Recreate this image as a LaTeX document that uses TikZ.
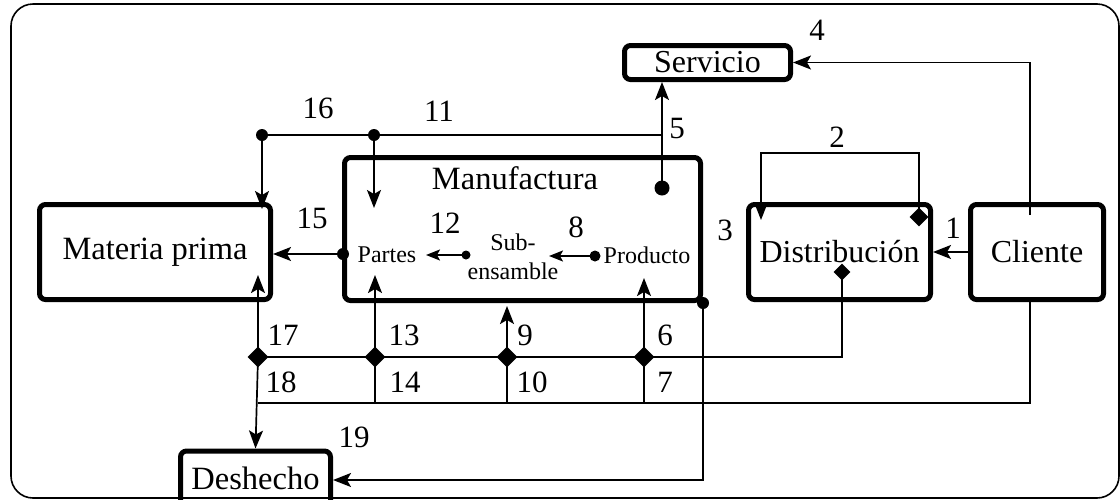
\documentclass[tikz,border=0pt]{standalone}
\usepackage{fontspec}
\setmainfont{Liberation Serif}
\usetikzlibrary{arrows.meta,shapes.geometric}
\begin{document}
\begin{tikzpicture}[x=1pt,y=-1pt,
  box/.style={draw,line width=5pt,rounded corners=6pt,inner sep=0pt,font=\fontsize{32}{36}\selectfont},
  big/.style={inner sep=0pt,font=\fontsize{32.5}{36}\selectfont},
  small/.style={inner sep=0pt,font=\fontsize{24}{29}\selectfont},
  num/.style={inner sep=0pt,font=\fontsize{31}{34}\selectfont},
  ln/.style={line width=1.7pt},
  arr/.style={line width=1.7pt,-{Stealth[length=18pt,width=14pt,inset=4pt]}},
  bigdot/.style={circle,fill,inner sep=0pt,minimum size=#1},
  dia/.style={diamond,fill,inner sep=0pt,minimum width=#1,minimum height=#1}]
\useasboundingbox (0,0) rectangle (1120,499);
\draw[line width=1.6pt,rounded corners=22pt] (11,4) rectangle (1119,498);

% boxes
\node[box,font=\fontsize{32.5}{36}\selectfont,minimum width=231pt,minimum height=95pt] (mp) at (155,252) {Materia prima};
\node[box,minimum width=356pt,minimum height=143pt] (manuf) at (522.5,229) {};
\node[box,minimum width=166pt,minimum height=34pt] (serv) at (707.5,62.5) {Servicio};
\node[box,minimum width=182pt,minimum height=95pt] (dist) at (839.5,252) {Distribución};
\node[box,minimum width=133pt,minimum height=95pt] (cli) at (1037,252) {Cliente};
\node[box,minimum width=150pt,minimum height=60pt] (desh) at (255.5,481) {};
\node[big] (deshT) at (255.5,478) {Deshecho};

% inside Manufactura
\node[big] (mtitle) at (515,178) {Manufactura};
\node[small] (partes) at (387,255) {Partes};
\node[small,align=center] (sub) at (513,257) {Sub-\\ensamble};
\node[small] (prod) at (647,255) {Producto};

% dots
\node[bigdot=12pt] (d16) at (262,135) {};
\node[bigdot=12pt] (d11) at (374,135) {};
\node[bigdot=15pt] (d5) at (662,188) {};
\node[bigdot=12pt] (d15) at (343,254) {};
\node[bigdot=9pt] (d12) at (466,255) {};
\node[bigdot=11pt] (d8) at (595,256) {};
\node[bigdot=12pt] (d19) at (703,303) {};

% diamonds
\node[dia=19pt] (q2) at (919,217) {};
\node[dia=17pt] (qd) at (842,272) {};
\node[dia=21pt] (q17) at (258,357) {};
\node[dia=21pt] (q13) at (375,357) {};
\node[dia=21pt] (q9) at (507,357) {};
\node[dia=21pt] (q6) at (644,357) {};

% coordinates
\coordinate (c2a) at (919,153);
\coordinate (c2b) at (761,153);
\coordinate (c2t) at (761,220);
\coordinate (c4) at (1030,215);
\coordinate (c11) at (661,135);
\coordinate (t11) at (374,208);
\coordinate (t16) at (262,209);
\coordinate (t17) at (258,275);
\coordinate (t13) at (375,275);
\coordinate (t9) at (507,306);
\coordinate (t6) at (644,278);
\coordinate (t12) at (426,255);
\coordinate (t8) at (549,256);
\coordinate (b18) at (258,403);
\coordinate (b14) at (375,403);
\coordinate (b10) at (507,403);
\coordinate (b7) at (644,403);
\coordinate (bc) at (1030,403);
\coordinate (c19) at (703,480);

% connectors
\draw[arr] (cli.west) -- (dist.east);
\draw[arr] (q2.center) -- (c2a) -- (c2b) -- (c2t);
\draw[arr] (c4) |- (serv.east);
\draw[arr] (d5.center) -- (d5 |- serv.south);
\draw[ln] (d16.center) -- (c11);
\draw[arr] (d11.center) -- (t11);
\draw[arr] (d16.center) -- (t16);
\draw[arr] (d15.center) -- (d15 -| mp.east);
\draw[arr,-{Stealth[length=14pt,width=11pt,inset=3pt]}] (d12.center) -- (t12);
\draw[arr,-{Stealth[length=14pt,width=11pt,inset=3pt]}] (d8.center) -- (t8);
\draw[ln] (q17.center) -- (q6.center) -| (qd.center);
\draw[arr] (q17.center) -- (t17);
\draw[arr] (q13.center) -- (t13);
\draw[arr] (q9.center) -- (t9);
\draw[arr] (q6.center) -- (t6);
\draw[arr] (q17.center) -- (desh.north);
\draw[ln] (b18) -- (bc) -- (cli.south -| bc);
\draw[ln] (b14) -- (q13.center);
\draw[ln] (b10) -- (q9.center);
\draw[ln] (b7) -- (q6.center);
\draw[arr] (d19.center) -- (c19) -- (c19 -| desh.east);

% labels
\node[num] (n1) at (953,228) {1};
\node[num] (n2) at (837,137) {2};
\node[num] (n3) at (725,230) {3};
\node[num] (n4) at (817,30) {4};
\node[num] (n5) at (677,128) {5};
\node[num] (n6) at (665,335) {6};
\node[num] (n7) at (665,382) {7};
\node[num] (n8) at (576,227) {8};
\node[num] (n9) at (525,335) {9};
\node[num] (n10) at (532,382) {10};
\node[num] (n11) at (439,111) {11};
\node[num] (n12) at (445,223) {12};
\node[num] (n13) at (404,335) {13};
\node[num] (n14) at (405,382) {14};
\node[num] (n15) at (312,218) {15};
\node[num] (n16) at (318,108) {16};
\node[num] (n17) at (283,335) {17};
\node[num] (n18) at (281,382) {18};
\node[num] (n19) at (354,437) {19};
\end{tikzpicture}
\end{document}
